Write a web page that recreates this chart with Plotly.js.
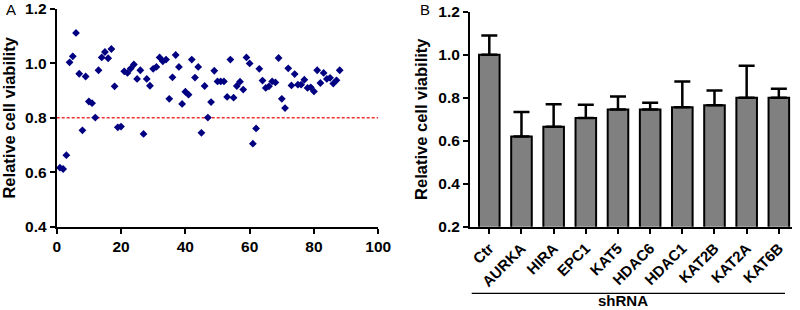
<!DOCTYPE html>
<html>
<head>
<meta charset="utf-8">
<script src="https://cdn.plot.ly/plotly-3.0.1.min.js"></script>
<style>html,body{margin:0;padding:0;background:#fff;}#chart{width:800px;height:310px;}</style>
</head>
<body>
<div id="chart"></div>
<script>
// Panel A: screen of shRNAs (index vs relative viability)
const screenIndex = [1,2,3,4,5,6,7,8,9,10,11,12,13,14,15,16,17,18,19,20,21,22,23,24,25,26,27,28,29,30,
  31,32,33,34,35,36,37,38,39,40,41,42,43,44,45,46,47,48,49,50,51,52,53,54,55,56,57,58,59,60,
  61,62,63,64,65,66,67,68,69,70,71,72,73,74,75,76,77,78,79,80,81,82,83,84,85,86,87,88];
const screenViability = [0.617,0.612,0.663,1.004,1.026,1.112,0.962,0.754,0.952,0.860,
  0.854,0.801,0.975,1.022,1.042,1.019,1.053,0.916,0.765,0.768,
  0.971,0.965,0.981,0.996,0.943,0.975,0.741,0.943,0.918,0.980,
  0.987,1.022,1.008,1.014,0.870,0.949,1.031,0.987,0.851,0.896,
  0.885,1.014,0.948,0.987,0.745,0.917,0.801,0.858,0.973,0.934,
  0.934,0.934,0.877,1.014,0.874,0.917,0.933,0.904,1.022,1.000,
  0.705,0.761,0.980,0.937,0.910,0.916,0.934,0.930,1.020,0.870,
  0.836,0.982,0.919,0.961,0.922,0.922,0.940,0.910,0.912,0.897,
  0.975,0.928,0.965,0.943,0.947,0.926,0.938,0.975];
const thresholdX = [0, 100];
const thresholdY = [0.8, 0.8];

// Panel B: selected shRNAs
const shrnaLabels = ['Ctr','AURKA','HIRA','EPC1','KAT5','HDAC6','HDAC1','KAT2B','KAT2A','KAT6B'];
const shrnaMeans  = [1.0,0.62,0.665,0.705,0.745,0.745,0.755,0.765,0.80,0.80];
const shrnaErrors = [0.089,0.113,0.104,0.062,0.06,0.031,0.12,0.069,0.149,0.042];

const yTitle = 'Relative cell viability';
const groupLabel = 'shRNA';

const FONT = 'Liberation Sans, Arial, Helvetica, sans-serif';
const tickFont = {family: FONT, size: 15.5, color: '#000', weight: 'bold'};
const catFont = {family: FONT, size: 15, color: '#000', weight: 'bold'};

const traces = [
  {
    x: thresholdX, y: thresholdY, type: 'scatter', mode: 'lines',
    line: {color: '#f03030', width: 1.5, dash: '3px,2px'},
    xaxis: 'x', yaxis: 'y', hoverinfo: 'skip', showlegend: false
  },
  {
    x: screenIndex, y: screenViability, type: 'scatter', mode: 'markers',
    marker: {symbol: 'diamond', size: 6, color: '#000080'},
    xaxis: 'x', yaxis: 'y', showlegend: false
  },
  {
    x: shrnaLabels, y: shrnaMeans, type: 'bar',
    marker: {color: '#808080', line: {color: '#000', width: 2}},
    width: 0.64,
    error_y: {type: 'data', array: shrnaErrors, arrayminus: shrnaErrors.map(() => 0), symmetric: false,
              color: '#000', thickness: 2.5, width: 8},
    xaxis: 'x2', yaxis: 'y2', showlegend: false
  }
];

const axisCommon = {
  showline: true, linecolor: '#000', linewidth: 2,
  ticks: 'outside', ticklen: 5, tickwidth: 2, tickcolor: '#000',
  showgrid: false, zeroline: false, tickfont: tickFont, automargin: false
};

const layout = {
  width: 800, height: 310,
  margin: {l: 0, r: 0, t: 0, b: 0},
  paper_bgcolor: '#fff', plot_bgcolor: '#fff',
  font: {family: FONT, color: '#000'},
  showlegend: false,
  xaxis: Object.assign({}, axisCommon, {
    domain: [56.7/800, 378.3/800], range: [0, 100], dtick: 20, tick0: 0, anchor: 'y'
  }),
  yaxis: Object.assign({}, axisCommon, {
    domain: [1 - 226.7/310, 1 - 9/310], range: [0.4, 1.2], dtick: 0.2, tick0: 0.4,
    tickformat: '.1f', anchor: 'x',
    title: {text: yTitle, font: {family: FONT, size: 16.5, weight: 'bold', color: '#000'}, standoff: 7}
  }),
  xaxis2: Object.assign({}, axisCommon, {
    domain: [470/800, 791.7/800], type: 'category', range: [-0.6, 9.4],
    tickangle: -45, anchor: 'y2', tickfont: catFont
  }),
  yaxis2: Object.assign({}, axisCommon, {
    domain: [1 - 226.7/310, 1 - 11.7/310], range: [0.2, 1.2], dtick: 0.2, tick0: 0.2,
    tickformat: '.1f', anchor: 'x2',
    title: {text: yTitle, font: {family: FONT, size: 16.5, weight: 'bold', color: '#000'}, standoff: 7}
  }),
  shapes: [
    {type: 'line', xref: 'paper', yref: 'paper', x0: 471.7/800, x1: 785/800,
     y0: 1 - 293.3/310, y1: 1 - 293.3/310, line: {color: '#000', width: 1.2}}
  ],
  annotations: [
    {text: 'A', xref: 'paper', yref: 'paper', x: 11/800, y: 1 - 9/310, showarrow: false,
     font: {family: FONT, size: 15, color: '#000'}, xanchor: 'center', yanchor: 'middle'},
    {text: 'B', xref: 'paper', yref: 'paper', x: 425/800, y: 1 - 9/310, showarrow: false,
     font: {family: FONT, size: 15, color: '#000'}, xanchor: 'center', yanchor: 'middle'},
    {text: groupLabel, xref: 'paper', yref: 'paper', x: 622.5/800, y: 0, showarrow: false,
     borderpad: 0, font: {family: FONT, size: 15, color: '#000', weight: 'bold'},
     xanchor: 'center', yanchor: 'bottom'}
  ]
};

Plotly.newPlot('chart', traces, layout, {staticPlot: true, displayModeBar: false});
</script>
</body>
</html>
